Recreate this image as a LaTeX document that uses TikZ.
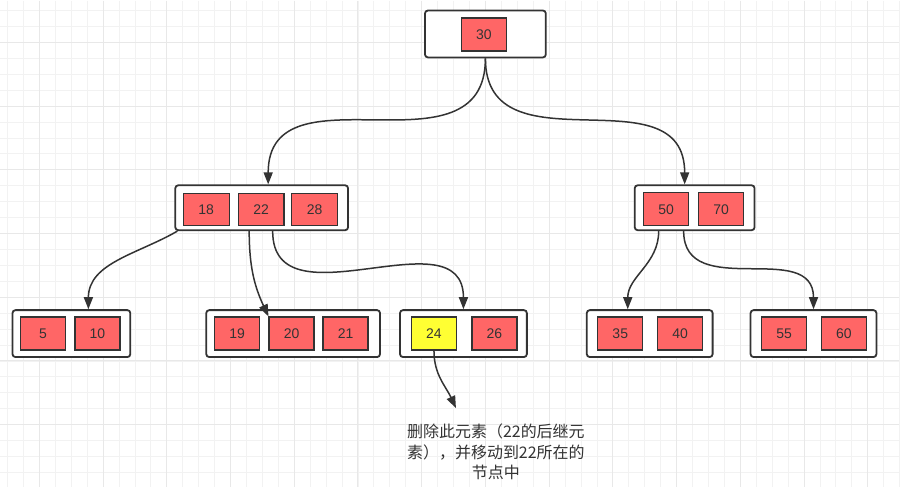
\documentclass[tikz,border=0pt]{standalone}
\usepackage{fontspec}
\setmainfont{Liberation Sans}
\newfontfamily\cjk{Noto Sans CJK SC}
\usetikzlibrary{arrows.meta}
\definecolor{keyred}{HTML}{FF6666}
\definecolor{keyyellow}{HTML}{FFFF33}
\definecolor{darkline}{HTML}{333333}

\begin{document}
\begin{tikzpicture}[x=1pt, y=-1pt,
    treenode/.style={draw=darkline, line width=1.8pt, rounded corners=3pt, fill=white, minimum height=47pt, inner sep=0pt},
    key/.style={draw=darkline, line width=1.4pt, fill=keyred, text=darkline, minimum width=45pt, minimum height=33pt, inner sep=0pt, font=\fontsize{14}{16}\selectfont},
    link/.style={darkline, line width=1.5pt, -{Triangle[length=12pt,width=9pt]}}]

    % Background grid
    \fill[white] (0,0) rectangle (900,487);
    \foreach \i in {0,...,56} \draw[gray!10, line width=0.8pt] ({7+15.95*\i},0) -- ++(0,487);
    \foreach \i in {0,...,29} \draw[gray!10, line width=0.8pt] (0,{10+15.95*\i}) -- ++(900,0);
    \foreach \i in {2,6,...,54} \draw[gray!18, line width=1pt] ({7+15.95*\i},0) -- ++(0,487);
    \foreach \i in {2,6,...,26} \draw[gray!18, line width=1pt] (0,{10+15.95*\i}) -- ++(900,0);
    \useasboundingbox (0,0) rectangle (900,487);

    % Root
    \node[treenode, minimum width=121pt] (root) at (485.5,33.5) {};
    \node[key] (k30) at (484,34) {30};

    % Second level
    \node[treenode, minimum width=173pt, minimum height=45pt] (nl) at (261.5,207.5) {};
    \node[key, minimum width=46pt, minimum height=32pt] (k18) at (206,209) {18};
    \node[key, minimum width=46pt, minimum height=32pt] (k22) at (261,209) {22};
    \node[key, minimum width=46pt, minimum height=32pt] (k28) at (314.5,209) {28};

    \node[treenode, minimum width=120pt, minimum height=45pt] (nr) at (695,207.5) {};
    \node[key] (k50) at (666.5,209) {50};
    \node[key] (k70) at (721.5,209) {70};

    % Leaves
    \node[treenode, minimum width=118pt] (na) at (71,333.5) {};
    \node[key] (k5) at (42.5,333.5) {5};
    \node[key] (k10) at (97,333.5) {10};

    \node[treenode, minimum width=174pt] (nb) at (293,333.5) {};
    \node[key] (k19) at (237,333.5) {19};
    \node[key] (k20) at (291.5,333.5) {20};
    \node[key] (k21) at (345.5,333.5) {21};

    \node[treenode, minimum width=127pt] (nc) at (463.5,333.5) {};
    \node[key, fill=keyyellow] (k24) at (434,333.5) {24};
    \node[key] (k26) at (494.5,333.5) {26};

    \node[treenode, minimum width=126pt] (nd) at (650,333.5) {};
    \node[key] (k35) at (620.5,333.5) {35};
    \node[key] (k40) at (680.5,333.5) {40};

    \node[treenode, minimum width=126pt] (ne) at (814,333.5) {};
    \node[key] (k55) at (784.5,333.5) {55};
    \node[key] (k60) at (844.5,333.5) {60};

    % Note on the successor
    \node[text=darkline, font=\cjk\fontsize{16}{20.5}\selectfont, align=center] (note) at (496,452) {删除此元素（22的后继元\\素），并移动到22所在的\\节点中};
    \coordinate (tip) at (456,408);

    % Links
    \draw[link] (root.south) to[out=-90, in=90, looseness=1.25] ([xshift=6.5pt]nl.north);
    \draw[link] (root.south) to[out=-90, in=90, looseness=1.25] ([xshift=-10pt]nr.north);
    \draw[link] ([xshift=3pt]nl.south west) to[out=-150, in=90] ([xshift=17pt]na.north);
    \draw[link] ([xshift=-12.5pt]nl.south) to[out=-90, in=115] (k20.north west);
    \draw[link] ([xshift=11pt]nl.south) to[out=-90, in=90, looseness=1.2] (nc.north);
    \draw[link] ([xshift=-36pt]nr.south) to[out=-90, in=90] ([xshift=-22pt]nd.north);
    \draw[link] ([xshift=-11pt]nr.south) to[out=-90, in=90, looseness=1.2] (ne.north);
    \draw[link] (k24.south) to[out=-90, in=115] (tip);
\end{tikzpicture}
\end{document}
